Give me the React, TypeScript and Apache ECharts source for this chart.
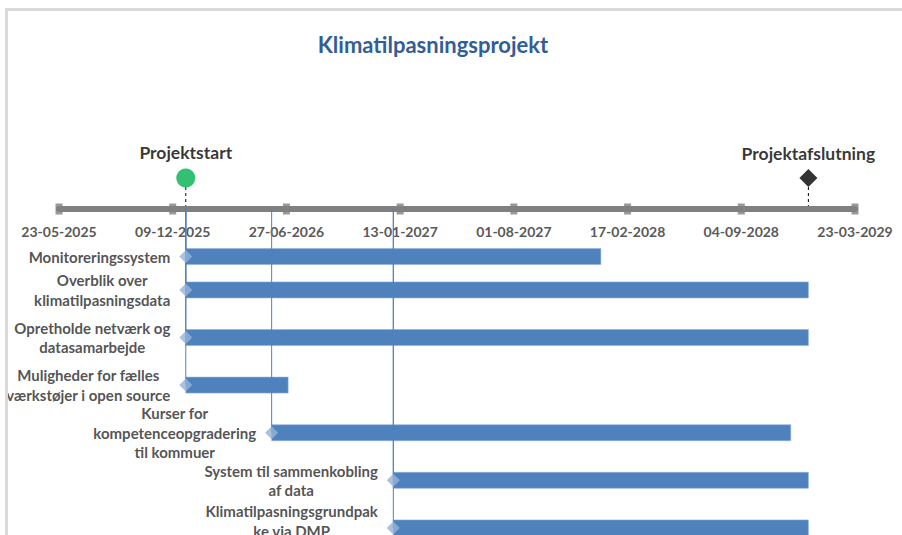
import React, { useEffect, useRef } from 'react';
import * as echarts from 'echarts';

const chartTitle = 'Klimatilpasningsprojekt';
const tickLabels = ['23-05-2025', '09-12-2025', '27-06-2026', '13-01-2027', '01-08-2027', '17-02-2028', '04-09-2028', '23-03-2029'];
const tickIntervalDays = 200;

const taskNames = [
  'Monitoreringssystem',
  'Overblik over\nklimatilpasningsdata',
  'Opretholde netværk og\ndatasamarbejde',
  'Muligheder for fælles\nværkstøjer i open source',
  'Kurser for\nkompetenceopgradering\ntil kommuer',
  'System til sammenkobling\naf data',
  'Klimatilpasningsgrundpak\nke via DMP',
];
const taskStarts = ['01-01-2026', '01-01-2026', '01-01-2026', '01-01-2026', '01-06-2026', '01-01-2027', '01-01-2027'];
const taskEnds = ['01-01-2028', '31-12-2028', '31-12-2028', '30-06-2026', '30-11-2028', '31-12-2028', '31-12-2028'];
const taskRows = [1, 1.7, 2.7, 3.7, 4.7, 5.7, 6.7];

const milestoneNames = ['Projektstart', 'Projektafslutning'];
const milestoneDates = ['01-01-2026', '31-12-2028'];
const milestoneRow = -0.65;

const DAY_MS = 86400000;
const parseDate = (s: string) => {
  const [d, m, y] = s.split('-').map(Number);
  return Date.UTC(y, m - 1, d);
};
const baseMs = parseDate(tickLabels[0]);
const toDay = (s: string) => Math.round((parseDate(s) - baseMs) / DAY_MS);

const FONT = 'Lato, "Open Sans", "Noto Sans", sans-serif';
const BAR_COLOR = '#4F81BD';
const AXIS_Y = 209;
const CHART_H = 600;

export default function App() {
  const ref = useRef<HTMLDivElement>(null);

  useEffect(() => {
    if (!ref.current) return;
    const chart = echarts.init(ref.current, undefined, { renderer: 'svg' });

    const taskData = taskNames.map((n, i) => ({
      name: n,
      value: [toDay(taskStarts[i]), toDay(taskEnds[i]), taskRows[i]],
    }));
    const xMax = toDay(tickLabels[tickLabels.length - 1]);

    const option: any = {
      animation: false,
      backgroundColor: '#ffffff',
      title: {
        text: chartTitle,
        left: 433,
        top: 33,
        padding: 0,
        textAlign: 'center',
        textStyle: { fontFamily: FONT, fontWeight: 'bold', fontSize: 22, color: '#335D96' },
      },
      grid: [
        { left: 59, right: 47, top: 161.4, bottom: 57.8 },
        { left: 59, right: 47, top: 100, bottom: CHART_H - AXIS_Y },
      ],
      xAxis: [
        {
          type: 'value',
          gridIndex: 0,
          min: 0,
          max: xMax,
          interval: tickIntervalDays,
          show: false,
          splitLine: { show: false },
        },
        {
          type: 'value',
          gridIndex: 1,
          position: 'bottom',
          min: 0,
          max: xMax,
          interval: tickIntervalDays,
          axisLine: { show: true, onZero: false, lineStyle: { color: '#808080', width: 6 } },
          axisTick: { show: false },
          splitLine: { show: false },
          axisLabel: {
            margin: 15,
            fontFamily: FONT,
            fontWeight: 'bold',
            fontSize: 14,
            color: '#595959',
            formatter: (v: number) => tickLabels[Math.round(v / tickIntervalDays)] ?? '',
          },
        },
      ],
      yAxis: [
        {
          type: 'value',
          gridIndex: 0,
          inverse: true,
          min: -1,
          max: 7,
          show: false,
          splitLine: { show: false },
        },
        {
          type: 'value',
          gridIndex: 1,
          min: 0,
          max: 1,
          show: false,
          splitLine: { show: false },
        },
      ],
      series: [
        {
          type: 'scatter',
          silent: true,
          symbol: 'rect',
          symbolSize: [7, 11],
          itemStyle: { color: '#808080' },
          data: tickLabels.map((t) => [toDay(t), 0]),
          z: 3,
        },
        {
          type: 'custom',
          silent: true,
          clip: false,
          data: taskData,
          z: 2,
          renderItem: (params: any, api: any) => {
            const s = api.coord([api.value(0), api.value(2)]);
            const e = api.coord([api.value(1), api.value(2)]);
            return {
              type: 'rect',
              shape: { x: s[0], y: s[1] - 8, width: e[0] - s[0], height: 16 },
              style: { fill: BAR_COLOR, stroke: '#8FB0DC', lineWidth: 0.6 },
            };
          },
        },
        {
          type: 'custom',
          silent: true,
          clip: false,
          data: taskData,
          z: 4,
          renderItem: (params: any, api: any) => {
            const s = api.coord([api.value(0), api.value(2)]);
            const a = api.coord([api.value(0), 0]);
            return {
              type: 'line',
              shape: { x1: s[0], y1: a[1], x2: s[0], y2: s[1] },
              style: { stroke: BAR_COLOR, lineWidth: 1 },
            };
          },
        },
        {
          type: 'scatter',
          silent: true,
          symbol: 'diamond',
          symbolSize: 13,
          itemStyle: { color: '#95B3D7' },
          z: 5,
          data: taskData.map((d, i) => ({
            name: d.name,
            value: [d.value[0], d.value[2]],
            label: i === taskData.length - 1 ? { offset: [0, -7] } : undefined,
          })),
          label: {
            show: true,
            position: 'left',
            distance: 9,
            formatter: (p: any) => p.name.split('\n').map((s: string) => `{c|${s}}`).join('\n'),
            rich: {
              c: {
                align: 'center',
                fontFamily: FONT,
                fontWeight: 'bold',
                fontSize: 15,
                lineHeight: 19.5,
                color: '#262626',
              },
            },
          },
        },
        {
          type: 'custom',
          silent: true,
          clip: false,
          z: 4,
          data: milestoneDates.map((d) => [toDay(d), milestoneRow]),
          renderItem: (params: any, api: any) => {
            const m = api.coord([api.value(0), api.value(1)]);
            const a = api.coord([api.value(0), 0]);
            return {
              type: 'line',
              shape: { x1: m[0], y1: m[1] + 9, x2: m[0], y2: a[1] - 3 },
              style: { stroke: '#000000', lineWidth: 1, lineDash: [3, 3] },
            };
          },
        },
        {
          type: 'scatter',
          silent: true,
          z: 6,
          data: milestoneNames.map((n, i) => ({
            name: n,
            value: [toDay(milestoneDates[i]), milestoneRow],
            symbol: i === 0 ? 'circle' : 'diamond',
            symbolSize: i === 0 ? 19 : 18,
            itemStyle: { color: i === 0 ? '#00B050' : '#000000' },
          })),
          label: {
            show: true,
            position: 'top',
            distance: 7,
            formatter: (p: any) => p.name,
            fontFamily: FONT,
            fontWeight: 'bold',
            fontSize: 17.5,
            color: '#000000',
          },
        },
      ],
    };

    chart.setOption(option);
    return () => chart.dispose();
  }, []);

  return (
    <div style={{ position: 'fixed', left: 0, top: 0, width: 902, height: 535, overflow: 'hidden', background: '#fff' }}>
      <div ref={ref} style={{ position: 'absolute', left: 0, top: 0, width: 902, height: CHART_H }} />
      <div
        style={{
          position: 'absolute',
          left: 5,
          top: 8,
          width: 902,
          height: 600,
          borderLeft: '3px solid #DADADA',
          borderTop: '3px solid #DADADA',
          pointerEvents: 'none',
        }}
      />
    </div>
  );
}
